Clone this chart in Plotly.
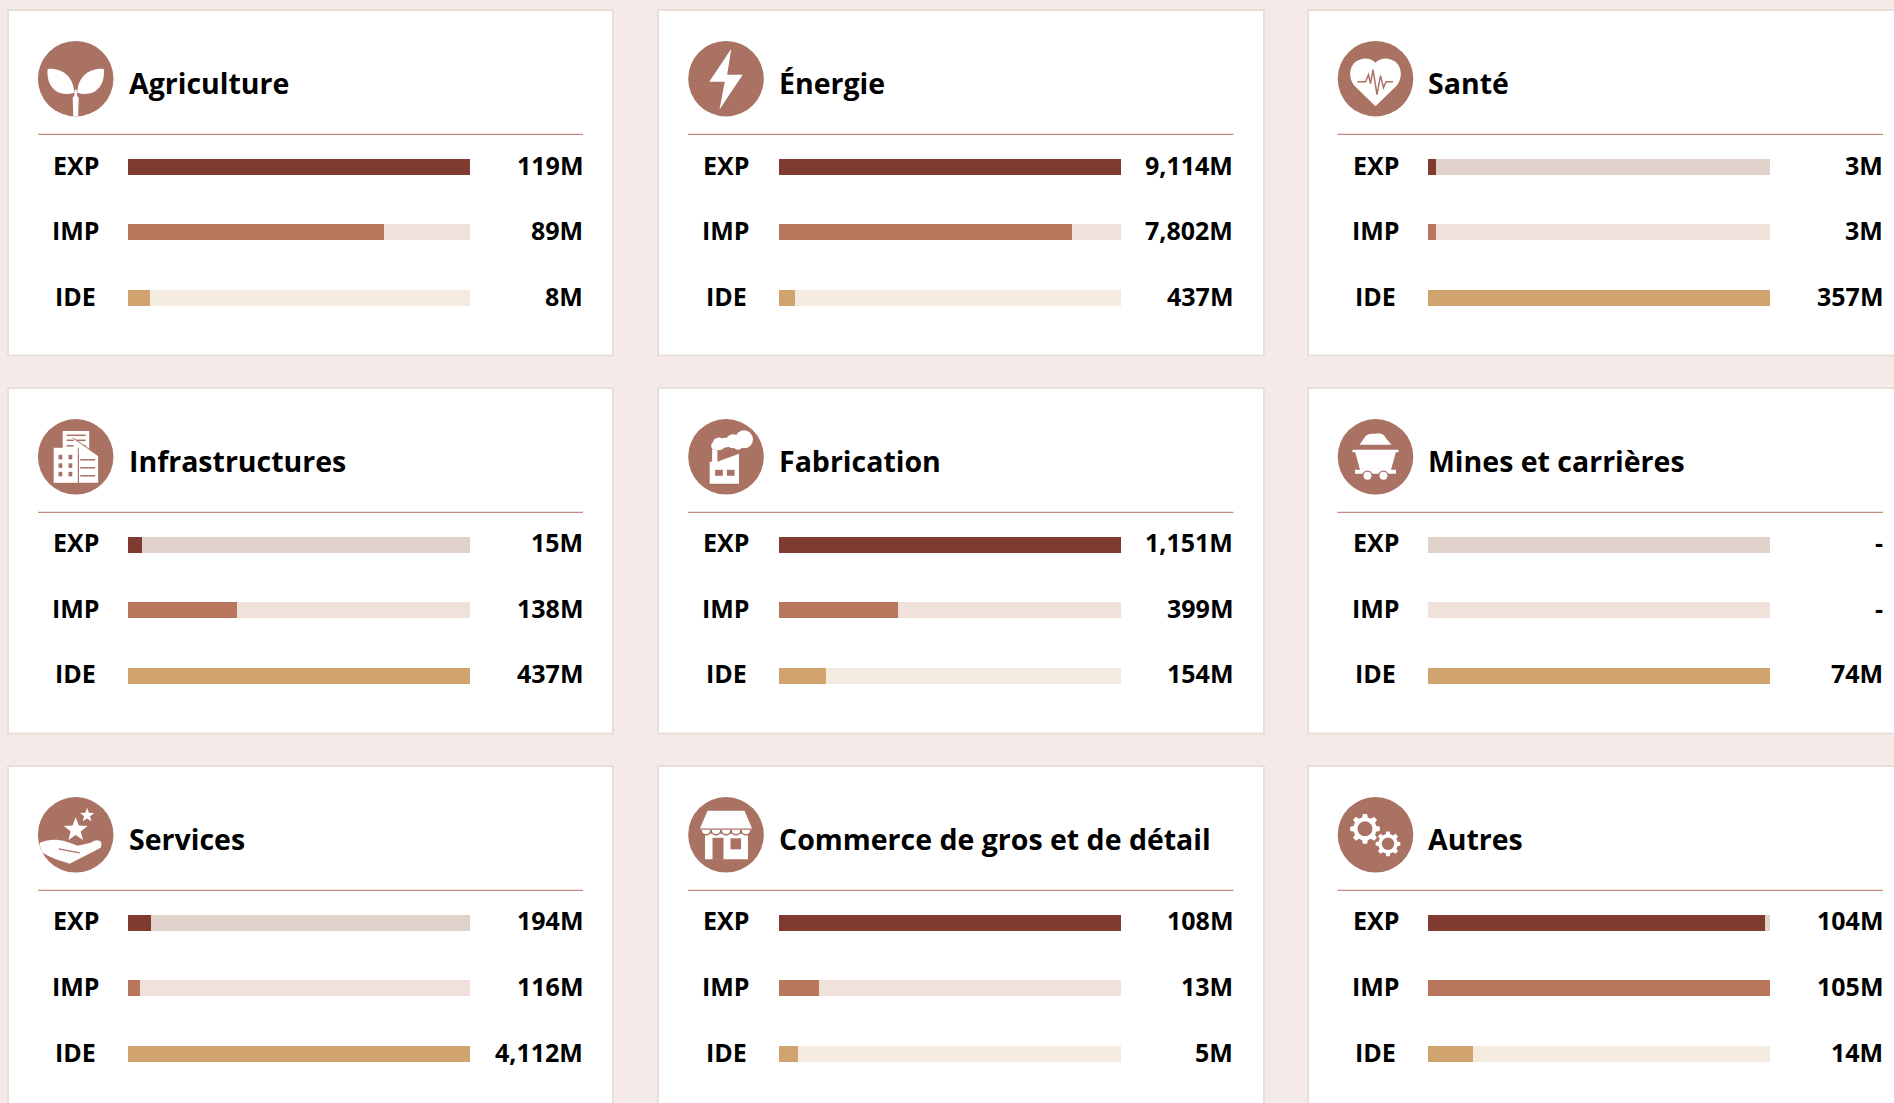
import math
import plotly.graph_objects as go

W, H = 1894, 1103

# ---------- data ----------
sectors = ["Agriculture", "Énergie", "Santé", "Infrastructures", "Fabrication",
           "Mines et carrières", "Services", "Commerce de gros et de détail", "Autres"]
flows = ["EXP", "IMP", "IDE"]
exp_labels = ["119M", "9,114M", "3M", "15M", "1,151M", "-", "194M", "108M", "104M"]
imp_labels = ["89M", "7,802M", "3M", "138M", "399M", "-", "116M", "13M", "105M"]
ide_labels = ["8M", "437M", "357M", "437M", "154M", "74M", "4,112M", "5M", "14M"]
# bar length, as % of the full track
exp_share = [100, 100, 2.3, 4.1, 100, 0, 6.7, 100, 98.6]
imp_share = [74.8, 85.7, 2.3, 31.8, 34.8, 0, 3.6, 11.7, 100]
ide_share = [6.3, 4.7, 100, 100, 13.7, 100, 100, 5.5, 13.2]
track_full = [100, 100, 100]

# ---------- style ----------
BG = "#f4eae7"; BORDER = "#e9dfda"; RULE = "#b5705f"; ICON = "#a97263"
FILL = ["#803b31", "#b8765c", "#d1a36f"]
TRACK = ["#e0d1ca", "#f0e2db", "#f3ebdf"]
FONT = "Open Sans"

COLS = [dict(card=(8, 613), rule=(38, 583), bar=(128, 470), lab=75.5, val=585, icon=75.7, title=129),
        dict(card=(658, 1264), rule=(688, 1233.5), bar=(779, 1121), lab=726, val=1235, icon=726, title=779),
        dict(card=(1308, 1913), rule=(1337.5, 1883), bar=(1428, 1770), lab=1375.5, val=1885, icon=1375.5, title=1428)]
ROWS = [dict(card=(10, 355.5), rule=134.3, y0=167, icon=78.7),
        dict(card=(388, 733.5), rule=512.3, y0=545, icon=456.8),
        dict(card=(766, 1112), rule=890.3, y0=923, icon=834.8)]
STEP = 65.5

px = lambda x: x / W
py = lambda y: 1 - y / H

shapes, annotations = [], []


def poly(points, close=True):
    s = "M" + " L".join(f"{px(x):.5f},{py(y):.5f}" for x, y in points)
    return s + (" Z" if close else "")


def add_path(path, fill="white", line=None, width=0):
    shapes.append(dict(type="path", xref="paper", yref="paper", path=path, layer="above",
                       fillcolor=fill, line=dict(color=line or "rgba(0,0,0,0)", width=width)))


def add_poly(cx, cy, pts, fill="white"):
    add_path(poly([(cx + x, cy + y) for x, y in pts]), fill)


def add_line(cx, cy, pts, color=ICON, width=1.5):
    add_path(poly([(cx + x, cy + y) for x, y in pts], close=False), "rgba(0,0,0,0)", color, width)


def add_rect(cx, cy, x0, y0, x1, y1, fill="white"):
    add_poly(cx, cy, [(x0, y0), (x1, y0), (x1, y1), (x0, y1)], fill)


def add_disc(cx, cy, x, y, r, fill="white"):
    shapes.append(dict(type="circle", xref="paper", yref="paper", layer="above", fillcolor=fill,
                       line=dict(width=0), x0=px(cx + x - r), x1=px(cx + x + r),
                       y0=py(cy + y + r), y1=py(cy + y - r)))


def add_curve(cx, cy, cmds, fill="white"):
    # cmds: list of (letter, flat pixel offsets)
    out = []
    for c, nums in cmds:
        pairs = [f"{px(cx + nums[i]):.5f},{py(cy + nums[i + 1]):.5f}" for i in range(0, len(nums), 2)]
        out.append(c + " ".join(pairs))
    add_path(" ".join(out) + " Z", fill)


def star(cx, cy, x, y, r):
    pts = []
    for i in range(10):
        a = -math.pi / 2 + i * math.pi / 5
        rr = r if i % 2 == 0 else r * 0.42
        pts.append((x + rr * math.cos(a), y + rr * math.sin(a)))
    add_poly(cx, cy, pts)


def gear(cx, cy, x, y, r, teeth=8):
    pts = []
    n = teeth
    for i in range(n):
        a = 2 * math.pi * i / n
        w = math.pi / n
        for da, rr in [(-w * .62, r * .78), (-w * .36, r), (w * .36, r), (w * .62, r * .78)]:
            pts.append((x + rr * math.cos(a + da), y + rr * math.sin(a + da)))
    add_poly(cx, cy, pts)
    add_disc(cx, cy, x, y, r * .5, ICON)


def icon_agri(cx, cy):
    add_curve(cx, cy, [("M", (-28, -10)), ("C", (-12, -11, -2, -1, -1.5, 14)), ("C", (-18, 19, -30, 8, -28, -10))])
    add_curve(cx, cy, [("M", (28, -10)), ("C", (12, -11, 2, -1, 1.5, 14)), ("C", (18, 19, 30, 8, 28, -10))])
    add_poly(cx, cy, [(-1, 11), (1, 11), (1.4, 17), (3, 19), (2.4, 37.5), (-2.4, 37.5), (-3, 19), (-1.4, 17)])


def icon_energy(cx, cy):
    add_poly(cx, cy, [(5.3, -30), (-16.7, 3), (-1.2, 3), (-6.5, 30.7), (16.7, -4), (1.2, -4)])


def icon_health(cx, cy):
    add_curve(cx, cy, [("M", (0, -16)), ("C", (-6, -22, -14, -21, -20, -17)),
                       ("C", (-27, -11, -27, 0, -21, 7)), ("L", (0, 27.5)), ("L", (21, 7)),
                       ("C", (27, 0, 27, -11, 20, -17)), ("C", (14, -21, 6, -22, 0, -16))])
    add_line(cx, cy, [(-18, 3), (-10, 3), (-7, -4), (-5, 5), (-2.5, -9), (1.5, 16), (5, -3), (8, 9), (10.5, 3), (17.5, 3)])


def icon_infra(cx, cy):
    add_rect(cx, cy, -13, -25.8, 13.5, -2)
    for y in (-21.5, -16.5, -11):
        add_line(cx, cy, [(-9, y), (10, y)], width=1.5)
    add_poly(cx, cy, [(-2, -18.5), (22.4, -0.8), (22.4, 26), (3.3, 26), (3.3, -8.5), (-2, -8.5)])
    add_line(cx, cy, [(-3, -19), (23, -1)], width=1)
    for y in (3, 11, 19):
        add_line(cx, cy, [(4.5, y), (19.5, y)], width=1.5)
    add_rect(cx, cy, -22, -9, 2.5, 26)
    add_line(cx, cy, [(2.6, -9), (2.6, 26)], width=1)
    for y0 in (-2, 6.5, 15):
        for x0 in (-17.2, -7.2):
            add_rect(cx, cy, x0, y0, x0 + 3.8, y0 + 4.6, ICON)


def icon_factory(cx, cy):
    add_poly(cx, cy, [(-16.3, 27), (-16.3, 5), (-13.9, 5), (-13.9, -7.5), (-8.6, -7.5), (-8.6, 5),
                      (13, -3), (13, 27)])
    add_rect(cx, cy, -10.9, 13, -3.2, 19, ICON)
    add_rect(cx, cy, 0.9, 13, 8.6, 19, ICON)
    for x, y, r in [(18, -17.5, 9), (7, -15.5, 7), (-1, -14, 5), (-7, -13, 6.4), (-11, -11, 3.8), (12, -11, 4)]:
        add_disc(cx, cy, x, y, r)


def icon_mines(cx, cy):
    add_curve(cx, cy, [("M", (-16, -12)), ("L", (-11, -19)), ("C", (-9, -23, -5, -23, -1, -23)),
                       ("C", (4, -24, 9, -23, 10, -19)), ("L", (16, -12))])
    add_rect(cx, cy, -23, -7, 23, -4.5)
    add_poly(cx, cy, [(-20.5, -5), (20.5, -5), (15.5, 13), (20.5, 13), (20.5, 17), (-20.5, 17), (-20.5, 13), (-15.5, 13)])
    for x in (-8, 8):
        add_disc(cx, cy, x, 19, 5.4, ICON)
        add_disc(cx, cy, x, 19, 4)


def icon_services(cx, cy):
    star(cx, cy, 0, -5, 12.5)
    star(cx, cy, 11.4, -19.5, 7.5)
    add_curve(cx, cy, [("M", (-36, 8)), ("C", (-24, 3, -14, 4, 2, 11)), ("L", (15, 8)),
                       ("C", (22, 3, 28, 6, 25, 13)), ("L", (-6, 29)),
                       ("C", (-16, 26, -27, 22, -33, 18)), ("C", (-35, 15, -36, 11, -36, 8))])
    add_line(cx, cy, [(-17, 14), (4, 18)], width=1.2)


def icon_shop(cx, cy):
    add_rect(cx, cy, -21, -1, 22, 24.5)
    add_rect(cx, cy, -13.5, 3, -2.5, 25, ICON)
    add_rect(cx, cy, 4.5, 3.5, 15, 14.5, ICON)
    for x in (-20, -10, 0, 10, 20):
        add_disc(cx, cy, x, -4.5, 5.2, ICON)
        add_disc(cx, cy, x, -4.8, 4.1, "white")
    add_poly(cx, cy, [(-18.5, -24), (18.5, -24), (25.5, -7.5), (25.5, -4.8), (-25.5, -4.8), (-25.5, -7.5)])
    add_rect(cx, cy, -25.5, -6.3, 25.5, -5.1, ICON)


def icon_gears(cx, cy):
    gear(cx, cy, -10.5, -6, 15)
    gear(cx, cy, 12.5, 9, 12.5)


ICONS = [icon_agri, icon_energy, icon_health, icon_infra, icon_factory, icon_mines, icon_services, icon_shop, icon_gears]

fig = go.Figure()
layout_axes = {}
for i, name in enumerate(sectors):
    col, row = COLS[i % 3], ROWS[i // 3]
    n = i + 1
    sfx = "" if n == 1 else str(n)
    # card
    shapes.append(dict(type="rect", xref="paper", yref="paper", layer="below", fillcolor="white",
                       line=dict(color=BORDER, width=2),
                       x0=px(col["card"][0]), x1=px(col["card"][1]),
                       y0=py(min(row["card"][1], H + 20)), y1=py(row["card"][0])))
    # rule
    shapes.append(dict(type="line", xref="paper", yref="paper", layer="below",
                       line=dict(color=RULE, width=1),
                       x0=px(col["rule"][0]), x1=px(col["rule"][1]), y0=py(row["rule"]), y1=py(row["rule"])))
    # icon disc
    rad = 37.8
    shapes.append(dict(type="circle", xref="paper", yref="paper", layer="below", fillcolor=ICON,
                       line=dict(width=0), x0=px(col["icon"] - rad), x1=px(col["icon"] + rad),
                       y0=py(row["icon"] + rad), y1=py(row["icon"] - rad)))
    ICONS[i](col["icon"], row["icon"])

    # bars
    top = row["y0"] - STEP / 2
    bottom = row["y0"] + STEP * 2.2
    layout_axes["xaxis" + sfx] = dict(domain=[px(col["bar"][0]), px(col["bar"][1])], range=[0, 100],
                                      visible=False, fixedrange=True, anchor="y" + sfx)
    layout_axes["yaxis" + sfx] = dict(domain=[py(bottom), py(top)], range=[2.2, -0.5], type="category",
                                      categoryorder="array", categoryarray=flows,
                                      visible=False, fixedrange=True, anchor="x" + sfx)
    fig.add_trace(go.Bar(orientation="h", y=flows, x=track_full, width=16 / STEP,
                         marker=dict(color=TRACK, line=dict(width=0)), xaxis="x" + sfx, yaxis="y" + sfx,
                         hoverinfo="skip", showlegend=False))
    fig.add_trace(go.Bar(orientation="h", y=flows, x=[exp_share[i], imp_share[i], ide_share[i]], width=16 / STEP,
                         marker=dict(color=FILL, line=dict(width=0)), xaxis="x" + sfx, yaxis="y" + sfx,
                         name=name, showlegend=False))

    # title
    annotations.append(dict(text=f"<b>{name}</b>", xref="paper", yref="paper", showarrow=False,
                            x=px(col["title"] - 2), y=py(row["icon"] + 4), xanchor="left", yanchor="middle",
                            font=dict(family=FONT, size=28.5, color="black")))
    # row labels and values
    labels = [exp_labels[i], imp_labels[i], ide_labels[i]]
    for f, v in zip(flows, labels):
        annotations.append(dict(text=f"<b>{f}</b>", xref="paper", yref="y" + sfx, x=px(col["lab"]), y=f,
                                xanchor="center", yanchor="middle", showarrow=False, yshift=2.5,
                                font=dict(family=FONT, size=25, color="black")))
        annotations.append(dict(text=f"<b>{v}</b>", xref="paper", yref="y" + sfx, x=px(col["val"]), y=f,
                                xanchor="right", yanchor="middle", showarrow=False, yshift=2.5,
                                font=dict(family=FONT, size=25, color="black")))

fig.update_layout(width=W, height=H, margin=dict(l=0, r=0, t=0, b=0), autosize=False,
                  paper_bgcolor=BG, plot_bgcolor="rgba(0,0,0,0)", barmode="overlay", bargap=0,
                  shapes=shapes, annotations=annotations, showlegend=False, **layout_axes)
fig.write_html("out.html", config=dict(displayModeBar=False, responsive=False),
               post_script="document.body.style.margin='0';document.documentElement.style.overflow='hidden';")
